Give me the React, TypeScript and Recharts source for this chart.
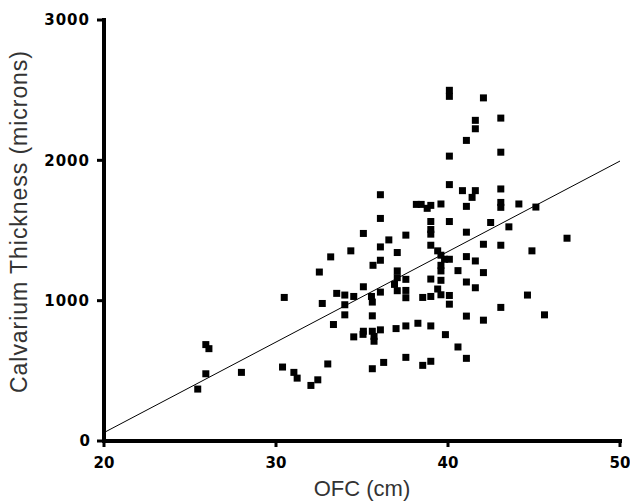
import React from 'react';
import {
  ScatterChart,
  Scatter,
  XAxis,
  YAxis,
  ReferenceLine,
  Label,
} from 'recharts';

const ofcCm = [
  25.45, 25.92, 26.1, 25.92, 27.99, 30.38, 30.48, 31.04, 31.23, 32.03,
  32.43, 32.52, 32.69, 33.01, 33.18, 33.34, 33.53, 34.0, 34.0, 34.0,
  34.35, 34.52, 34.52, 35.08, 35.08, 35.08, 35.06, 35.55, 35.6, 35.6,
  35.6, 35.7, 35.7, 35.6, 35.64, 36.07, 36.07, 36.07, 36.07, 36.07,
  36.07, 36.26, 36.56, 36.89, 36.98, 37.05, 37.05, 37.05, 37.05, 37.55,
  37.55, 37.55, 37.55, 37.55, 37.55, 38.16, 38.44, 38.25, 38.53, 38.53,
  38.79, 39.0, 39.0, 39.0, 39.0, 39.0, 39.0, 39.0, 39.0, 39.0,
  39.4, 39.59, 39.59, 39.59, 39.59, 39.59, 39.4, 39.59, 39.8, 39.85,
  40.08, 40.08, 40.08, 40.08, 40.08, 40.08, 40.08, 40.08, 40.58, 40.58,
  40.84, 41.07, 41.07, 41.07, 41.07, 41.07, 41.07, 41.07, 41.4, 41.59,
  41.59, 41.59, 41.59, 41.59, 42.06, 42.06, 42.06, 42.06, 42.48, 43.07,
  43.07, 43.07, 43.07, 43.07, 43.07, 43.07, 43.54, 44.12, 44.62, 44.88,
  45.11, 45.61, 46.92,
];

const thicknessMicrons = [
  370, 687, 658, 479, 489, 527, 1023, 489, 448, 396,
  436, 1204, 980, 549, 1312, 830, 1052, 1040, 971, 899,
  1355, 1030, 742, 1479, 1099, 782, 760, 1030, 990, 892,
  782, 745, 711, 515, 1252, 1755, 1586, 1383, 1288, 1061,
  792, 560, 1433, 1116, 801, 1343, 1212, 1164, 1071, 1467,
  1152, 1073, 1021, 820, 596, 1686, 1686, 839, 1023, 539,
  1658, 1679, 1564, 1507, 1474, 1395, 1154, 1030, 820, 568,
  1355, 1689, 1324, 1252, 1212, 1145, 1083, 1042, 1295, 758,
  2499, 2456, 2030, 1827, 1564, 1295, 1037, 975, 1214, 670,
  1784, 2142, 1672, 1488, 1314, 1133, 890, 589, 1736, 2285,
  2225, 1784, 1283, 1092, 2445, 1402, 1200, 861, 1557, 2301,
  2058, 1796, 1700, 1665, 1395, 952, 1526, 1689, 1040, 1355,
  1667, 899, 1445,
];

const xTicks = [20, 30, 40, 50];
const yTicks = [0, 1000, 2000, 3000];
const xDomain = [20, 50];
const yDomain = [0, 3000];
const fitLine = [
  { x: 20, y: 60 },
  { x: 50, y: 1995 },
];

const data = ofcCm.map((x, i) => ({ x, y: thicknessMicrons[i] }));

const tickFont = '"DejaVu Sans", sans-serif';
const titleFont = '"Liberation Sans", Arial, sans-serif';
const frameLine = { stroke: '#000', strokeWidth: 4, strokeLinecap: 'square' as const };

const XTick = (props: any) => {
  const { x, payload } = props;
  return (
    <text
      x={x}
      y={468}
      textAnchor="middle"
      fontFamily={tickFont}
      fontWeight="bold"
      fontSize={15}
      fill="#000"
    >
      {payload.value}
    </text>
  );
};

const YTick = (props: any) => {
  const { y, payload } = props;
  return (
    <text
      x={90}
      y={y}
      dy="0.36em"
      textAnchor="end"
      fontFamily={tickFont}
      fontWeight="bold"
      fontSize={15}
      fill="#000"
      letterSpacing={payload.value >= 1000 ? 1 : 0}
    >
      {payload.value}
    </text>
  );
};

const SquareDot = (props: any) => {
  const { cx, cy } = props;
  if (cx == null || cy == null) return null;
  return <rect x={cx - 3.5} y={cy - 3.5} width={7} height={7} fill="#000" />;
};

export default function App() {
  return (
    <div style={{ position: 'absolute', left: 0, top: 0, background: '#fff' }}>
      <ScatterChart
        width={630}
        height={504}
        margin={{ top: 20, right: 10, bottom: 0, left: 0 }}
      >
        <XAxis
          type="number"
          dataKey="x"
          domain={xDomain}
          ticks={xTicks}
          allowDataOverflow
          axisLine={frameLine}
          tickLine={{ stroke: '#000', strokeWidth: 3 }}
          tickSize={6}
          height={63}
          tick={<XTick />}
        >
          <Label
            content={() => (
              <text
                x={362}
                y={496}
                textAnchor="middle"
                fontFamily={titleFont}
                fontSize={22}
                fill="#333"
              >
                OFC (cm)
              </text>
            )}
          />
        </XAxis>
        <XAxis
          xAxisId="top"
          orientation="top"
          type="number"
          dataKey="x"
          domain={xDomain}
          allowDataOverflow
          axisLine={frameLine}
          tick={false}
          tickLine={false}
          height={0}
        />
        <YAxis
          type="number"
          dataKey="y"
          domain={yDomain}
          ticks={yTicks}
          allowDataOverflow
          axisLine={frameLine}
          tickLine={{ stroke: '#000', strokeWidth: 3 }}
          tickSize={7}
          width={104}
          tick={<YTick />}
        >
          <Label
            content={() => (
              <text
                x={27}
                y={222}
                transform="rotate(-90, 27, 222)"
                textAnchor="middle"
                fontFamily={titleFont}
                fontSize={23}
                fill="#333"
                textLength={342}
                lengthAdjust="spacing"
              >
                Calvarium Thickness (microns)
              </text>
            )}
          />
        </YAxis>
        <YAxis
          yAxisId="right"
          orientation="right"
          type="number"
          dataKey="y"
          domain={yDomain}
          allowDataOverflow
          axisLine={frameLine}
          tick={false}
          tickLine={false}
          width={0}
        />
        <ReferenceLine
          segment={fitLine}
          stroke="#000"
          strokeWidth={1}
          ifOverflow="visible"
        />
        <Scatter
          data={data}
          fill="#000"
          shape={<SquareDot />}
          isAnimationActive={false}
        />
      </ScatterChart>
    </div>
  );
}
